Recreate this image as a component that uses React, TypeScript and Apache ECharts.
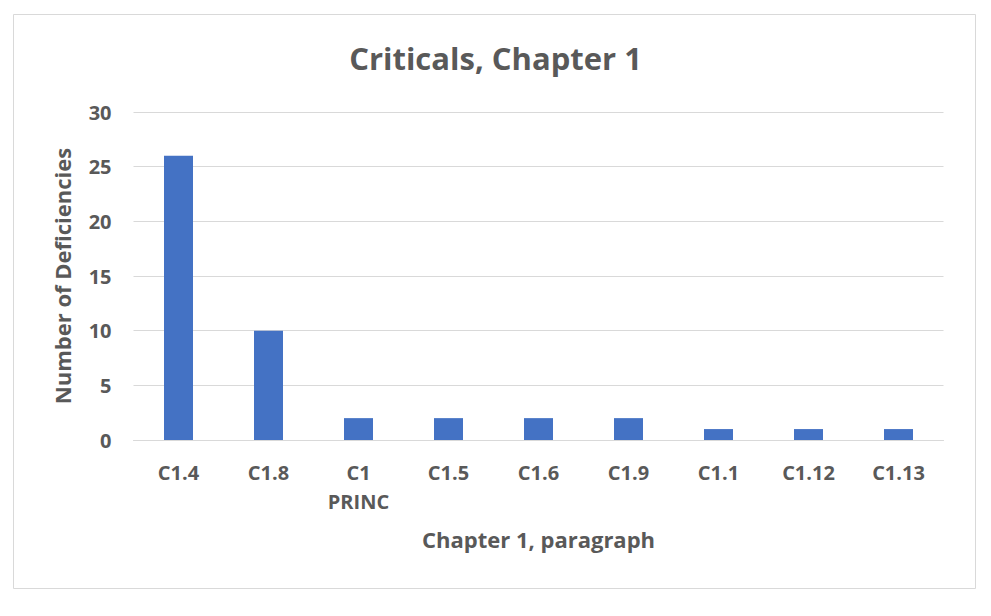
import React, { useEffect, useRef } from "react";
import * as echarts from "echarts";

const categories = ["C1.4", "C1.8", "C1\nPRINC", "C1.5", "C1.6", "C1.9", "C1.1", "C1.12", "C1.13"];
const values = [26, 10, 2, 2, 2, 2, 1, 1, 1];
const titleText = "Criticals, Chapter 1";
const xTitle = "Chapter 1, paragraph";
const yTitle = "Number of Deficiencies";

const FONT = "'Open Sans', 'Noto Sans', sans-serif";
const GREY = "#595959";

export default function App() {
  const ref = useRef<HTMLDivElement>(null);
  useEffect(() => {
    document.body.style.margin = "0";
    const chart = echarts.init(ref.current!, undefined, { renderer: "svg" });
    chart.setOption({
      animation: false,
      backgroundColor: "#ffffff",
      title: {
        text: titleText,
        left: "center",
        top: 37,
        textStyle: { fontFamily: FONT, fontSize: 31, fontWeight: "bold", color: GREY },
      },
      graphic: [
        {
          type: "rect",
          shape: { x: 13.5, y: 14.5, width: 962, height: 574 },
          style: { fill: "none", stroke: "#d9d9d9", lineWidth: 1 },
        },
      ],
      grid: { left: 133.5, right: 991 - 943.5, top: 112, bottom: 616 - 440 },
      xAxis: {
        type: "category",
        data: categories,
        name: xTitle,
        nameLocation: "middle",
        nameGap: 88,
        nameTextStyle: { fontFamily: FONT, fontSize: 22, fontWeight: "bold", color: GREY },
        axisLine: { lineStyle: { color: "#d9d9d9", width: 1 } },
        axisTick: { show: false },
        axisLabel: {
          fontFamily: FONT,
          fontSize: 20,
          fontWeight: "bold",
          color: GREY,
          margin: 18,
          lineHeight: 29,
        },
      },
      yAxis: {
        type: "value",
        min: 0,
        max: 30,
        interval: 5,
        name: yTitle,
        nameLocation: "middle",
        nameGap: 61,
        nameTextStyle: { fontFamily: FONT, fontSize: 22, fontWeight: "bold", color: GREY },
        axisLine: { show: false },
        axisTick: { show: false },
        splitLine: { lineStyle: { color: "#d9d9d9", width: 1 } },
        axisLabel: { fontFamily: FONT, fontSize: 20, fontWeight: "bold", color: GREY, margin: 22 },
      },
      series: [
        {
          type: "bar",
          data: values,
          barWidth: 29,
          itemStyle: { color: "#4472c4" },
        },
      ],
    });
    return () => chart.dispose();
  }, []);
  return <div ref={ref} style={{ width: 991, height: 616 }} />;
}
